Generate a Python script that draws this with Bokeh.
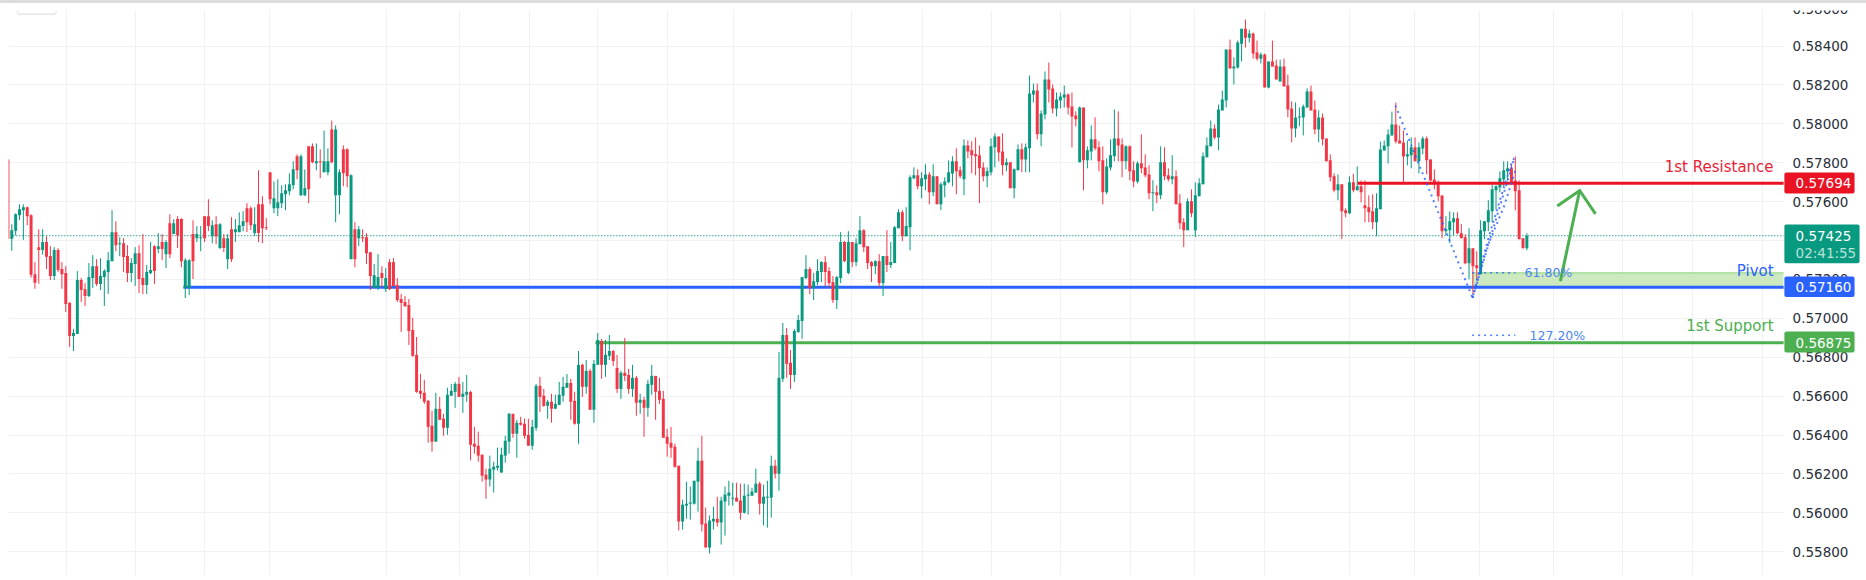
from bokeh.plotting import figure
from bokeh.layouts import column
from bokeh.models import ColumnDataSource, Range1d, FixedTicker, Label, BoxAnnotation, PrintfTickFormatter, Div
from bokeh.embed import file_html
from bokeh.resources import INLINE

# Candles, in 1e-5 price units. R falling, G rising.
dirs_a = ("R" "GGGG" "RRRR" "GRRGRRRR" "GG" "RR" "GG" "R" "GGGG" "R" "G" "RR" "GG" "RR" "GG" "R" "G" "R" "G" "R" "G" "RR"
          "GG" "R" "GG" "RR" "G" "R" "G" "R" "G" "R" "GGG" "RR" "G" "RRRR" "GGGGGG" "R" "G" "G" "RR" "G" "R" "G" "G" "R" "GG"
          "RR" "G" "R" "G" "RRR" "GG" "R" "G" "RRRRRRRRRRRR" "G" "RR" "GGG" "R" "GG")
high_a = [57817,57484,57540,57586,57586,57575,57535,57289,57458,57458,57422,57371,57366,57361,57289,57268,57084,56945,57243,57207,57181,57284,57325,57304,57309,57253,57340,57556,57499,57417,57412,57376,57309,57366,57376,57433,57274,57392,57376,57438,57433,57402,57535,57510,57525,57515,57309,57304,57504,57474,57474,57525,57612,57504,57525,57489,57433,57433,57520,57510,57545,57551,57592,57576,57571,57761,57628,57515,57751,57704,57715,57684,57689,57745,57807,57843,57843,57766,57884,57899,57899,57869,57966,57874,58017,57992,57766,57889,57874,57740,57494,57474,57458,57438,57340,57279,57330,57268,57258,57304,57309,57207,57125,57115,57099,57002,56904,56714,56684,56581,56525,56617,56596,56509,56643,56663,56673,56699,56673,56709]
low_a = [57409,57347,57426,57506,57403,57479,57209,57152,57178,57327,57253,57197,57197,57238,57152,57032,56853,56832,56920,57084,57063,57109,57156,57166,57145,57063,57125,57294,57345,57320,57238,57186,57186,57166,57130,57125,57125,57227,57176,57335,57299,57258,57309,57433,57361,57263,57104,57120,57202,57392,57345,57392,57448,57386,57381,57356,57340,57253,57289,57392,57443,57448,57443,57453,57422,57392,57386,57453,57586,57540,57525,57566,57556,57633,57663,57715,57628,57628,57592,57797,57761,57720,57751,57735,57797,57494,57535,57679,57674,57304,57263,57371,57392,57279,57145,57156,57145,57161,57135,57145,57166,57084,56930,57058,56863,56802,56617,56586,56560,56360,56314,56366,56478,56396,56401,56602,56540,56596,56514,56571]
top_a = [57817,57453,57535,57561,57571,57571,57530,57227,57366,57392,57392,57320,57351,57351,57253,57233,57079,56925,57197,57197,57150,57212,57268,57268,57217,57243,57299,57443,57443,57386,57386,57320,57284,57335,57335,57207,57238,57248,57371,57371,57392,57392,57489,57489,57510,57510,57299,57299,57433,57433,57417,57525,57525,57479,57484,57484,57412,57412,57458,57458,57479,57499,57566,57566,57484,57586,57586,57468,57751,57617,57597,57643,57658,57689,57766,57833,57833,57669,57884,57884,57807,57807,57807,57807,57971,57971,57751,57869,57869,57735,57458,57458,57417,57417,57340,57222,57212,57233,57207,57289,57289,57171,57099,57084,57068,56940,56812,56627,56617,56576,56448,56535,56535,56484,56607,56627,56663,56663,56612,56622]
bottom_a = [57409,57409,57450,57530,57556,57525,57224,57183,57351,57351,57316,57217,57217,57248,57227,57074,56909,56909,56920,57145,57115,57115,57207,57176,57176,57212,57238,57294,57376,57381,57315,57233,57233,57279,57202,57171,57171,57233,57243,57356,57356,57330,57330,57433,57427,57294,57156,57156,57294,57412,57412,57412,57474,57422,57422,57361,57361,57304,57304,57443,57443,57474,57494,57479,57438,57438,57463,57463,57612,57566,57566,57592,57638,57653,57684,57761,57633,57633,57663,57802,57797,57802,57751,57751,57802,57633,57633,57746,57730,57304,57304,57412,57412,57335,57217,57156,57156,57207,57150,57150,57166,57094,57079,57063,56935,56807,56622,56612,56571,56442,56366,56366,56478,56437,56437,56602,56622,56596,56596,56607]

dirs_b = ("RRRRR" "GGGGGG" "RGRRR" "GG" "RR" "GR" "GGGG" "RR" "G" "R" "G" "R" "GG" "R" "GG" "RR" "G" "RR" "G" "R" "G" "R" "GG"
          "RRRRRRR" "GGGGG" "RR" "GG" "R" "GGGG" "RR" "GGGG" "R" "GGG" "R" "GG" "RR" "GGGG" "R" "GGG" "RRR" "GG" "R" "G" "R" "GG"
          "RRR" "G" "R" "G" "R" "GGG" "R" "G")
high_b = [56627,56442,56417,56299,56227,56294,56263,56335,56335,56396,56514,56509,56478,56494,56484,56484,56478,56663,56699,56637,56581,56612,56607,56673,56699,56714,56689,56622,56832,56766,56786,56740,56786,56925,56894,56889,56914,56837,56812,56730,56899,56740,56761,56704,56612,56596,56684,56761,56704,56694,56627,56432,56442,56355,56242,56068,56160,56135,56165,56335,56396,56027,55986,56032,56083,56083,56135,56165,56155,56155,56150,56150,56145,56129,56227,56160,56145,56165,56294,56273,56827,56976,56950,56837,56945,57017,57212,57325,57263,57233,57304,57294,57320,57263,57217,57217,57443,57397,57448,57392,57412,57525,57458,57371,57294,57299,57330,57320,57453,57392,57474,57561,57556,57571]
low_b = [56270,56304,56263,56160,56073,56135,56104,56217,56207,56258,56304,56386,56283,56448,56381,56345,56324,56422,56519,56545,56484,56463,56535,56555,56571,56643,56478,56453,56355,56596,56612,56530,56463,56761,56689,56699,56786,56755,56617,56586,56678,56612,56596,56499,56509,56391,56494,56607,56478,56560,56386,56289,56283,56232,55909,55914,55970,55965,56042,56006,55904,55822,55791,55914,55929,55837,55883,56037,56037,56058,55965,55996,55991,56088,56104,55991,55935,55924,55976,56176,56114,56673,56694,56637,56673,56925,56894,57202,57125,57094,57171,57186,57166,57161,57079,57048,57181,57289,57227,57263,57268,57381,57340,57253,57186,57227,57161,57115,57238,57258,57284,57463,57397,57422]
top_b = [56622,56355,56345,56299,56196,56227,56237,56242,56299,56371,56509,56509,56463,56463,56458,56401,56442,56653,56653,56602,56571,56571,56560,56607,56648,56668,56668,56576,56761,56761,56730,56730,56766,56889,56884,56812,56832,56832,56745,56720,56720,56709,56694,56694,56581,56581,56663,56704,56704,56627,56586,56391,56360,56340,56242,56042,56047,56053,56165,56268,56268,55945,55960,55970,55970,56063,56094,56104,56078,56078,56063,56088,56094,56109,56150,56150,56083,56083,56242,56242,56694,56914,56914,56771,56935,56991,57212,57253,57253,57191,57243,57289,57289,57243,57186,57212,57392,57392,57392,57392,57386,57453,57453,57371,57289,57294,57294,57320,57320,57289,57468,57545,57545,57474]
bottom_b = [56350,56340,56294,56191,56171,56171,56222,56232,56207,56294,56366,56407,56407,56453,56396,56345,56345,56437,56596,56550,56550,56535,56535,56555,56602,56643,56571,56458,56458,56648,56648,56530,56530,56761,56761,56761,56807,56781,56637,56637,56704,56637,56637,56566,56566,56540,56540,56658,56622,56581,56386,56355,56335,56237,55955,55955,56037,56047,56047,56160,55940,55822,55822,55955,55950,55950,56058,56088,56073,56058,56001,56001,56088,56088,56104,56047,56047,56078,56078,56201,56201,56689,56766,56709,56709,56930,56986,57207,57156,57156,57186,57238,57238,57181,57094,57094,57207,57294,57233,57289,57289,57381,57366,57284,57268,57268,57181,57181,57274,57274,57284,57463,57422,57422]

dirs_c = ("GGRGGRGRGGGG" "RRG" "RRRRR" "GGG" "RR" "GRGGRG" "GGRGG" "RR" "GGG" "RRR" "GR" "GG" "RRR" "GGG" "RR" "G" "RR" "G"
          "RRR" "G" "R" "G" "RR" "G" "RRR" "G" "R" "GGGGG" "R" "GGG" "R" "GGG" "R" "G" "RR" "G" "R" "G" "RR" "G" "RRR" "GGGG"
          "RR" "G" "RRRR" "G" "RR")
high_c = [57735,57776,57766,57751,57792,57751,57792,57730,57699,57725,57812,57833,57874,57781,57920,57915,57910,57930,57889,57802,57776,57925,57951,57935,57951,57822,57802,57771,57894,57899,57899,58248,58207,58207,58069,58269,58315,58202,58161,58161,58197,58156,58161,58064,58089,58084,57884,57992,58033,57910,57884,57822,57920,58074,58064,57925,57889,57889,57807,57807,57946,57843,57787,57710,57684,57884,57879,57771,57838,57761,57638,57515,57617,57663,57699,57720,57853,57930,58017,57997,58099,58171,58382,58433,58341,58428,58489,58536,58484,58469,58428,58366,58361,58320,58428,58330,58330,58335,58253,58115,58110,58084,58099,58182,58197,58120,58069,58053,57925,57843,57745,57740,57689,57566]
low_c = [57350,57715,57663,57617,57658,57586,57628,57586,57556,57622,57694,57679,57638,57720,57633,57822,57746,57735,57592,57704,57674,57735,57776,57807,57735,57756,57669,57617,57761,57751,57751,57751,58110,57920,57884,58023,58110,58053,58038,58079,58084,58048,57879,57987,57802,57658,57771,57812,57864,57756,57586,57638,57761,57807,57807,57725,57766,57710,57674,57694,57746,57725,57612,57551,57592,57612,57710,57704,57689,57586,57458,57366,57453,57520,57417,57628,57689,57828,57884,57920,57864,58069,58084,58284,58202,58284,58320,58392,58418,58335,58325,58310,58187,58182,58294,58228,58217,58192,58033,57905,57930,57987,57940,58084,58069,57946,57905,57889,57807,57704,57648,57607,57407,57520]
top_c = [57725,57735,57735,57720,57740,57740,57730,57730,57689,57704,57751,57807,57807,57761,57889,57889,57864,57843,57838,57776,57756,57884,57935,57935,57858,57802,57802,57766,57869,57869,57879,58156,58171,58171,58053,58228,58228,58182,58125,58141,58151,58151,58089,58043,58084,58084,57864,57920,57920,57879,57812,57781,57838,57925,57925,57894,57884,57884,57761,57797,57797,57776,57740,57648,57648,57802,57802,57735,57730,57730,57592,57494,57602,57602,57633,57694,57833,57889,57976,57976,58074,58125,58382,58382,58294,58418,58489,58489,58464,58464,58366,58356,58356,58320,58320,58300,58294,58294,58197,58079,58033,58038,58089,58166,58166,58074,58033,58033,57925,57812,57730,57689,57689,57556]
bottom_c = [57468,57720,57679,57679,57715,57648,57648,57586,57586,57684,57699,57745,57756,57730,57715,57858,57838,57833,57771,57730,57730,57751,57879,57853,57787,57787,57669,57669,57761,57817,57817,57874,58151,57946,57946,58048,58176,58079,58079,58120,58135,58084,58038,58023,57802,57812,57812,57858,57874,57807,57648,57648,57776,57833,57889,57807,57807,57756,57704,57704,57771,57735,57643,57643,57633,57633,57730,57715,57715,57586,57489,57453,57453,57540,57453,57628,57689,57828,57884,57930,57930,58069,58120,58284,58284,58289,58412,58443,58443,58361,58335,58335,58187,58187,58294,58228,58217,58192,58074,57976,57976,58033,58033,58084,58069,57971,57971,57920,57807,57725,57658,57658,57551,57540]

dirs_d = "GRGRRRRGGGGGRRRGGRGGRRRRRGGGRRRGRRGGGGGGGGRRRRG"
high_d = [57730,57743,57781,57709,57709,57632,57637,57643,57909,57914,57971,58063,58109,57991,57966,57914,57930,57930,57904,57935,57935,57817,57766,57709,57632,57525,57550,57545,57545,57484,57432,57463,57360,57345,57504,57499,57607,57689,57684,57755,57807,57807,57791,57832,57709,57412,57437]
low_d = [57535,57648,57658,57596,57494,57494,57458,57422,57561,57863,57796,57940,57899,57899,57689,57786,57771,57807,57745,57843,57740,57704,57663,57602,57412,57427,57386,57427,57432,57412,57278,57201,57124,57196,57227,57407,57448,57494,57560,57648,57679,57709,57689,57555,57407,57360,57350]
top_d = [57699,57699,57679,57679,57581,57571,57550,57566,57868,57889,57945,57997,57997,57914,57904,57843,57879,57879,57879,57925,57925,57817,57714,57689,57632,57458,57499,57514,57514,57437,57417,57360,57360,57273,57453,57499,57555,57663,57679,57720,57761,57771,57771,57709,57658,57412,57425]
bottom_d = [57540,57658,57658,57648,57566,57545,57494,57494,57561,57863,57884,57940,57909,57899,57832,57832,57838,57807,57807,57873,57812,57709,57689,57627,57448,57448,57453,57494,57437,57412,57283,57283,57268,57258,57227,57448,57494,57550,57658,57673,57714,57755,57699,57653,57407,57360,57360]

price_ticks = [0.558, 0.560, 0.562, 0.564, 0.566, 0.568, 0.570, 0.572, 0.574, 0.576, 0.578, 0.580, 0.582, 0.584, 0.586]
time_ticks = [14.1, 32.2, 50.1, 66.9, 97.1, 116.1, 134.2, 152.0, 170.0, 187.1, 217.9, 236.2, 254.1, 272.0, 290.1,
              306.9, 325.0, 346.9, 363.9, 380.8, 399.9, 417.8, 435.9, 454.0]

resistance, pivot, support, last_price = 0.57694, 0.57160, 0.56875, 0.57425
fib_618, fib_1272 = 0.57234, 0.56913
zig_x = [358.9, 378.9, 389.8]
zig_y = [0.58094, 0.57105, 0.57828]
zig2_x = [378.9, 382.7, 387.0, 390.3]
zig2_y = [0.57105, 0.57366, 0.57571, 0.57777]
zig3_x = [378.9, 383.1, 386.0, 388.8, 389.8]
zig3_y = [0.57105, 0.57417, 0.57606, 0.57786, 0.57828]
arrow_x = [401.7, 406.7]
arrow_y = [0.57191, 0.57657]
wing_x = [400.9, 406.7, 410.8]
wing_y = [0.57578, 0.57657, 0.57537]
tab_x = [1.3, 1.8, 11.2, 11.7]
tab_y = [0.58578, 0.58564, 0.58564, 0.58578]

GREEN, RED, BLUE, SUP, CRIMSON = "#089981", "#f23645", "#2962ff", "#4caf50", "#e91324"
FONT = "DejaVu Sans"
X_START, PANE_END, X_END = -0.856, 459.6, 481.1
Y_BOTTOM, PANE_TOP, Y_TOP = 0.556778, 0.585825, 0.586185

dirs = dirs_a + dirs_b + dirs_c + dirs_d
highs = high_a + high_b + high_c + high_d
lows = low_a + low_b + low_c + low_d
tops = top_a + top_b + top_c + top_d
bottoms = bottom_a + bottom_b + bottom_c + bottom_d

src = ColumnDataSource(dict(
    x=[i - 1 for i in range(len(highs))],
    high=[v / 1e5 for v in highs], low=[v / 1e5 for v in lows],
    top=[v / 1e5 for v in tops], bottom=[v / 1e5 for v in bottoms],
    color=[GREEN if d == "G" else RED for d in dirs]))

p = figure(width=1866, height=577, frame_width=1858, frame_height=572,
           output_backend="svg", toolbar_location=None, x_axis_location=None, y_axis_location="right",
           x_range=Range1d(X_START, X_END), y_range=Range1d(Y_BOTTOM, Y_TOP),
           min_border_left=8, min_border_top=0, min_border_bottom=5, min_border_right=0,
           outline_line_color=None, background_fill_color="white", border_fill_color="white")

ax = p.yaxis[0]
ax.fixed_location = PANE_END
ax.ticker = FixedTicker(ticks=price_ticks)
ax.formatter = PrintfTickFormatter(format="%.5f")
ax.axis_line_color = None
ax.major_tick_line_color = None
ax.minor_tick_line_color = None
ax.major_label_standoff = 3
ax.major_label_text_font = FONT
ax.major_label_text_font_size = "13.5px"
ax.major_label_text_color = "#2a2e39"
p.ygrid.ticker = FixedTicker(ticks=price_ticks)
p.ygrid.grid_line_color = "#f0f1f4"
p.xgrid.ticker = FixedTicker(ticks=time_ticks)
p.xgrid.grid_line_color = "#f0f1f4"

# the price column has no grid behind it
p.quad(left=[PANE_END], right=[X_END], top=[Y_TOP], bottom=[Y_BOTTOM], fill_color="white", line_color=None)
# the top edge of the page hides all but the foot of the highest price label
p.add_layout(BoxAnnotation(left=X_START, right=X_END, top=Y_TOP, bottom=PANE_TOP, fill_color="white", fill_alpha=1,
                           line_color=None))

p.line(tab_x, tab_y, line_color="#d9d9d9", line_width=1)
p.add_layout(BoxAnnotation(left=378.8, right=PANE_END, top=fib_618, bottom=pivot, fill_color="#cde9c0", fill_alpha=1,
                           line_color=None, level="underlay"))
p.line([378.8, PANE_END], [fib_618, fib_618], line_color="#9cdb8c", line_width=1.2)
p.line([44.5, PANE_END], [pivot, pivot], line_color=BLUE, line_width=3)
p.line([151.4, PANE_END], [support, support], line_color=SUP, line_width=3)
p.line([0.4, PANE_END], [last_price, last_price], line_color=GREEN, line_width=1.3, line_dash="1 2")

p.segment(x0="x", x1="x", y0="high", y1="low", source=src, line_color="color", line_width=1)
p.vbar(x="x", width=0.77, top="top", bottom="bottom", source=src, fill_color="color", line_color=None)

p.line([349.1, PANE_END], [resistance, resistance], line_color=CRIMSON, line_width=3)
for xs, ys in [(zig_x, zig_y), (zig2_x, zig2_y), (zig3_x, zig3_y)]:
    p.line(xs, ys, line_color=BLUE, line_width=2, line_dash="2 4", line_alpha=0.8)
p.line([378.8, 390], [fib_618, fib_618], line_color=BLUE, line_width=1.5, line_dash="2 4", line_alpha=0.8)
p.line([378.8, 390], [fib_1272, fib_1272], line_color=BLUE, line_width=1.5, line_dash="2 4", line_alpha=0.8)
p.line(arrow_x, arrow_y, line_color=SUP, line_width=3)
p.line(wing_x, wing_y, line_color=SUP, line_width=3, line_join="miter")

def note(text, x, y, color, size="13px", align="left"):
    p.add_layout(Label(x=x, y=y, x_units="data", y_units="data", text=text, text_color=color,
                       text_font=FONT, text_font_size=size, text_align=align, text_baseline="middle"))

note("61.80%", 392.4, fib_618, "#4a85f0", "12.5px")
note("127.20%", 393.7, fib_1272, "#4a85f0", "12.5px")
note("1st Resistance", 457.0, 0.57777, "#e91e36", "15px", align="right")
note("Pivot", 457.0, 0.57242, BLUE, "15px", align="right")
note("1st Support", 457.0, 0.56958, SUP, "15px", align="right")

for lo, hi, col, right in [(0.57642, 0.57750, CRIMSON, 478.0), (0.57283, 0.57482, GREEN, 479.3),
                           (0.57109, 0.57215, BLUE, 478.0), (0.56824, 0.56932, SUP, 478.0)]:
    p.add_layout(BoxAnnotation(left=459.8, right=right, top=hi, bottom=lo, fill_color=col, fill_alpha=1,
                               line_color=None, border_radius=2))
note("0.57694", 462.7, resistance, "white", "13.5px")
note("0.57425", 462.7, last_price, "white", "13.5px")
note("02:41:55", 462.7, 0.57335, "#b8e3da", "13.5px")
note("0.57160", 462.7, pivot, "white", "13.5px")
note("0.56875", 462.7, support, "white", "13.5px")

strip = Div(text="", width=1866, height=3, margin=0, styles={"background-color": "#dcdcdc"})
open("out.html", "w").write(file_html(column(strip, p, spacing=0), INLINE))
